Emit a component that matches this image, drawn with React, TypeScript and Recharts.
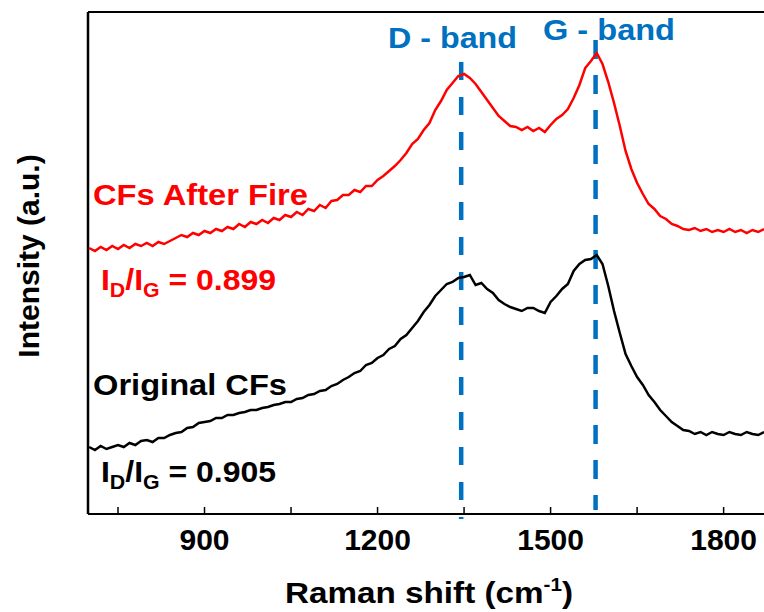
import React from 'react';
import { LineChart, Line, XAxis, YAxis, ReferenceLine } from 'recharts';

// Raman shift sample grid (cm-1)
const SHIFT = [
  700, 710, 720, 730, 740, 750, 760, 770, 780, 790,
  800, 810, 820, 830, 840, 850, 860, 870, 880, 890,
  900, 910, 920, 930, 940, 950, 960, 970, 980, 990,
  1000, 1010, 1020, 1030, 1040, 1050, 1060, 1070, 1080, 1090,
  1100, 1110, 1120, 1130, 1140, 1150, 1160, 1170, 1180, 1190,
  1200, 1210, 1220, 1230, 1240, 1250, 1260, 1270, 1280, 1290,
  1300, 1310, 1320, 1330, 1340, 1350, 1360, 1370, 1380, 1390,
  1400, 1410, 1420, 1430, 1440, 1450, 1460, 1470, 1480, 1490,
  1500, 1510, 1520, 1530, 1540, 1550, 1560, 1570, 1580, 1590,
  1600, 1610, 1620, 1630, 1640, 1650, 1660, 1670, 1680, 1690,
  1700, 1710, 1720, 1730, 1740, 1750, 1760, 1770, 1780, 1790,
  1800, 1810, 1820, 1830, 1840, 1850, 1860, 1870,
];

// CFs after fire (offset upwards)
const AFTER_FIRE = [
  266, 263, 267, 264, 268, 265, 269, 266, 270, 268,
  271, 268, 272, 270, 273, 276, 279, 277, 281, 279,
  283, 281, 285, 283, 287, 285, 290, 287, 292, 290,
  294, 291, 296, 294, 299, 297, 302, 299, 305, 303,
  309, 306, 313, 314, 319, 319, 324, 322, 328, 328,
  334, 338, 343, 348, 354, 361, 370, 375, 384, 391,
  404, 413, 424, 431, 438, 440, 436, 430, 422, 414,
  406, 398, 393, 388, 387, 384, 387, 383, 386, 382,
  389, 395, 399, 405, 416, 429, 446, 453, 461, 450,
  432, 411, 388, 363, 345, 331, 320, 310, 305, 298,
  295, 290, 288, 285, 284, 286, 283, 285, 282, 284,
  282, 285, 282, 284, 281, 284, 282, 285,
];

// original CFs
const ORIGINAL = [
  67, 64, 68, 65, 67, 69, 67, 71, 69, 73,
  74, 72, 76, 76, 79, 81, 82, 86, 87, 91,
  92, 93, 96, 96, 99, 99, 101, 102, 104, 104,
  106, 107, 109, 110, 112, 112, 115, 116, 119, 120,
  123, 124, 128, 130, 134, 137, 141, 143, 149, 151,
  156, 159, 165, 168, 175, 179, 186, 193, 202, 209,
  218, 224, 230, 232, 236, 237, 239, 229, 231, 225,
  221, 214, 210, 207, 205, 203, 206, 206, 203, 201,
  212, 218, 225, 230, 243, 250, 254, 255, 259, 250,
  228, 203, 181, 160, 148, 137, 129, 119, 112, 104,
  98, 92, 88, 84, 83, 80, 82, 79, 82, 80,
  79, 82, 80, 79, 82, 80, 79, 82,
];

const X_DOMAIN = [698, 1870];
const Y_DOMAIN = [0, 502];
const X_TICKS = [750, 900, 1050, 1200, 1350, 1500, 1650, 1800];
const D_BAND = 1345;
const G_BAND = 1578;

const data = SHIFT.map((w, i) => ({ w, fire: AFTER_FIRE[i], orig: ORIGINAL[i] }));

const FONT = 'Arial, "Liberation Sans", sans-serif';
const BLUE = '#0070C0';

const XTick = ({ x, y, payload }: any) => (
  <g>
    <line x1={x} y1={y} x2={x} y2={y - 7} stroke="#000" strokeWidth={1.5} />
    {payload.value % 300 === 0 && (
      <text x={x} y={y + 36} textAnchor="middle" fontFamily={FONT} fontWeight="bold" fontSize={30} fill="#000">
        {payload.value}
      </text>
    )}
  </g>
);

const Ratio = ({ x, y, value, color }: any) => (
  <text x={x} y={y} fontFamily={FONT} fontWeight="bold" fontSize={30} fill={color} textLength={175} lengthAdjust="spacingAndGlyphs">
    I<tspan fontSize={20} dy={7}>D</tspan>
    <tspan dy={-7}>/I</tspan>
    <tspan fontSize={20} dy={7}>G</tspan>
    <tspan dy={-7}>{' = ' + value}</tspan>
  </text>
);

export default function App() {
  return (
    <div style={{ position: 'absolute', left: 0, top: 0, width: 764, height: 612, overflow: 'hidden', background: '#fff' }}>
      <LineChart width={764} height={612} data={data} margin={{ top: 12, right: 0, bottom: 0, left: 88 }}>
        <XAxis
          dataKey="w"
          type="number"
          domain={X_DOMAIN}
          ticks={X_TICKS}
          allowDataOverflow
          height={98}
          tickSize={0}
          tickMargin={0}
          tickLine={false}
          interval={0}
          tick={<XTick />}
          axisLine={{ stroke: '#000', strokeWidth: 2 }}
        />
        <YAxis type="number" domain={Y_DOMAIN} width={0} tick={false} tickLine={false} axisLine={false} />
        {/* frame: left axis and top border */}
        <ReferenceLine x={X_DOMAIN[0]} stroke="#000" strokeWidth={2.5} />
        <ReferenceLine y={Y_DOMAIN[1]} stroke="#000" strokeWidth={2} />
        <ReferenceLine
          segment={[{ x: D_BAND, y: 452 }, { x: D_BAND, y: -5 }]}
          stroke={BLUE}
          strokeWidth={4.5}
          strokeDasharray="18 17"
          ifOverflow="visible"
        />
        <ReferenceLine
          segment={[{ x: G_BAND, y: 474 }, { x: G_BAND, y: 4 }]}
          stroke={BLUE}
          strokeWidth={4.5}
          strokeDasharray="19 16"
          ifOverflow="visible"
        />
        <Line dataKey="fire" stroke="#FF0000" strokeWidth={2.5} dot={false} isAnimationActive={false} />
        <Line dataKey="orig" stroke="#000000" strokeWidth={2.5} dot={false} isAnimationActive={false} />

        <text x={388} y={48} fontFamily={FONT} fontWeight="bold" fontSize={30} fill={BLUE} textLength={129} lengthAdjust="spacingAndGlyphs">D - band</text>
        <text x={543} y={40} fontFamily={FONT} fontWeight="bold" fontSize={30} fill={BLUE} textLength={132} lengthAdjust="spacingAndGlyphs">G - band</text>
        <text x={93} y={205} fontFamily={FONT} fontWeight="bold" fontSize={29} fill="#FF0000" textLength={215} lengthAdjust="spacingAndGlyphs">CFs After Fire</text>
        <Ratio x={101} y={290} value="0.899" color="#FF0000" />
        <text x={93} y={395} fontFamily={FONT} fontWeight="bold" fontSize={29} fill="#000" textLength={194} lengthAdjust="spacingAndGlyphs">Original CFs</text>
        <Ratio x={101} y={482} value="0.905" color="#000" />

        <text x={285} y={603} fontFamily={FONT} fontWeight="bold" fontSize={29} fill="#000" textLength={288} lengthAdjust="spacingAndGlyphs">
          Raman shift (cm<tspan fontSize={18} dy={-12}>-1</tspan><tspan dy={12}>)</tspan>
        </text>
        <text x={28} y={256} transform="rotate(-90 28 256)" textAnchor="middle" dominantBaseline="central" fontFamily={FONT} fontWeight="bold" fontSize={30} fill="#000">
          Intensity (a.u.)
        </text>
      </LineChart>
    </div>
  );
}
